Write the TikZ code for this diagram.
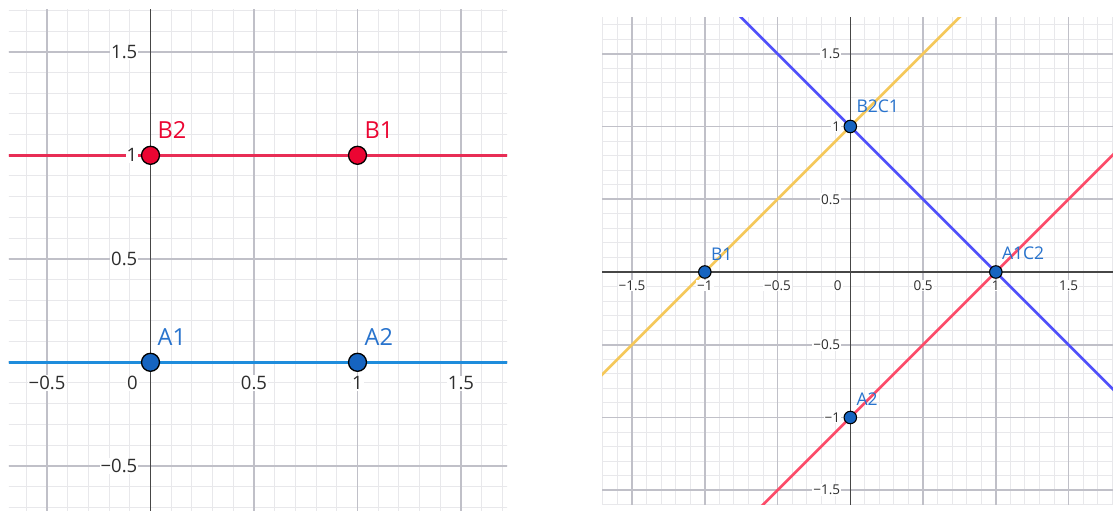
\documentclass[tikz,border=0pt]{standalone}
\usepackage{fontspec}
\setmainfont{Open Sans}
\usetikzlibrary{calc}
\definecolor{minorc}{RGB}{232,232,235}
\definecolor{majorc}{RGB}{192,192,200}
\definecolor{axisc}{RGB}{70,70,70}
\definecolor{tickc}{RGB}{45,45,45}
\definecolor{lred}{RGB}{232,45,85}
\definecolor{lredpt}{RGB}{235,5,50}
\definecolor{lblue}{RGB}{30,140,220}
\definecolor{bluept}{RGB}{22,100,192}
\definecolor{bluetxt}{RGB}{40,115,205}
\definecolor{rblue}{RGB}{80,80,250}
\definecolor{ryellow}{RGB}{245,200,90}
\definecolor{rred}{RGB}{252,75,105}
\tikzset{
  minorgrid/.style={draw=minorc, line width=1pt},
  majorgrid/.style={draw=majorc, line width=1.6pt},
  axisline/.style={draw=axisc, line width=1.6pt},
  tickL/.style={font=\fontsize{18.5}{19}\selectfont, text=tickc, fill=white, inner sep=1pt},
  tickR/.style={font=\fontsize{13.5}{14}\selectfont, text=tickc, fill=white, inner sep=1pt},
  ptbig/.style={circle, draw=black, line width=1.3pt, minimum size=18pt, inner sep=0pt},
  ptsmall/.style={circle, draw=black, line width=1.1pt, minimum size=12.5pt, inner sep=0pt},
  lblL/.style={font=\fontsize{23.5}{24}\selectfont, inner sep=0pt, anchor=base west},
  lblR/.style={font=\fontsize{17.5}{18}\selectfont, inner sep=0pt, anchor=base west, text=bluetxt},
}
\begin{document}
\begin{tikzpicture}
\useasboundingbox (0,0) rectangle (1113pt,511pt);
\fill[white] (0,0) rectangle (1113pt,511pt);

% ---------------- left panel ----------------
\begin{scope}[shift={(150.5pt,148.7pt)}, x=207pt, y=207pt]
  \begin{scope}
    \clip (-0.6836,-0.7184) rectangle (1.7222,1.7019);
    \foreach \i in {-7,...,18} \draw[minorgrid] (\i/10,-0.8) -- (\i/10,1.8);
    \foreach \j in {-8,...,18} \draw[minorgrid] (-0.8,\j/10) -- (1.8,\j/10);
    \foreach \v in {-0.5,0.5,1,1.5} {
      \draw[majorgrid] (\v,-0.8) -- (\v,1.8);
      \draw[majorgrid] (-0.8,\v) -- (1.8,\v);
    }
    \draw[axisline] (-0.8,0) -- (1.8,0);
    \draw[axisline] (0,-0.8) -- (0,1.8);
    \coordinate (cA1) at (0,0);
    \coordinate (cA2) at (1,0);
    \coordinate (cB2) at (0,1);
    \coordinate (cB1) at (1,1);
    \draw[lblue, line width=3.5pt] ($(cA1)!-3!(cA2)$) -- ($(cA2)!-3!(cA1)$);
    \draw[lred, line width=3.5pt] ($(cB2)!-3!(cB1)$) -- ($(cB1)!-3!(cB2)$);
  \end{scope}
  \foreach \v/\t/\n in {-0.5/{−0.5}/a, 0.5/{0.5}/b, 1/{1}/c, 1.5/{1.5}/d}
    \node[tickL] (Lx\n) at ([yshift=-21pt]\v,0) {\t};
  \node[tickL] (Lx0) at ([xshift=-18pt,yshift=-21pt]0,0) {0};
  \foreach \v/\t/\n in {-0.5/{−0.5}/a, 0.5/{0.5}/b, 1/{1}/c, 1.5/{1.5}/d}
    \node[tickL, anchor=east] (Ly\n) at ([xshift=-12pt]0,\v) {\t};
  \node[ptbig, fill=bluept] (A1) at (cA1) {};
  \node[ptbig, fill=bluept] (A2) at (cA2) {};
  \node[ptbig, fill=lredpt] (B2) at (cB2) {};
  \node[ptbig, fill=lredpt] (B1) at (cB1) {};
  \node[lblL, text=bluetxt] (A1l) at ([xshift=7pt,yshift=16.5pt]cA1) {A1};
  \node[lblL, text=bluetxt] (A2l) at ([xshift=7pt,yshift=16.5pt]cA2) {A2};
  \node[lblL, text=lredpt] (B2l) at ([xshift=7pt,yshift=17pt]cB2) {B2};
  \node[lblL, text=lredpt] (B1l) at ([xshift=7pt,yshift=17pt]cB1) {B1};
\end{scope}

% ---------------- right panel ----------------
\begin{scope}[shift={(850.3pt,239pt)}, x=145.5pt, y=145.5pt]
  \begin{scope}
    \clip (-1.7065,-1.601) rectangle (1.8055,1.7457);
    \foreach \i in {-18,...,19} \draw[minorgrid] (\i/10,-1.7) -- (\i/10,1.8);
    \foreach \j in {-17,...,18} \draw[minorgrid] (-1.8,\j/10) -- (1.9,\j/10);
    \foreach \v in {-1.5,-1,-0.5,0.5,1,1.5} {
      \draw[majorgrid] (\v,-1.7) -- (\v,1.8);
      \draw[majorgrid] (-1.8,\v) -- (1.9,\v);
    }
    \draw[axisline] (-1.8,0) -- (1.9,0);
    \draw[axisline] (0,-1.7) -- (0,1.8);
    \coordinate (cB2C1) at (0,1);
    \coordinate (cA1C2) at (1,0);
    \coordinate (cRB1) at (-1,0);
    \coordinate (cRA2) at (0,-1);
    \draw[ryellow, line width=2.6pt] ($(cRB1)!-3!(cB2C1)$) -- ($(cB2C1)!-3!(cRB1)$);
    \draw[rred, line width=2.6pt] ($(cRA2)!-3!(cA1C2)$) -- ($(cA1C2)!-3!(cRA2)$);
    \draw[rblue, line width=2.6pt] ($(cB2C1)!-3!(cA1C2)$) -- ($(cA1C2)!-3!(cB2C1)$);
  \end{scope}
  \foreach \v/\t/\n in {-1.5/{−1.5}/a, -1/{−1}/b, -0.5/{−0.5}/c, 0.5/{0.5}/d, 1/{1}/e, 1.5/{1.5}/f}
    \node[tickR] (Rx\n) at ([yshift=-13.5pt]\v,0) {\t};
  \node[tickR] (Rx0) at ([xshift=-12.5pt,yshift=-13.5pt]0,0) {0};
  \foreach \v/\t/\n in {-1.5/{−1.5}/a, -1/{−1}/b, -0.5/{−0.5}/c, 0.5/{0.5}/d, 1/{1}/e, 1.5/{1.5}/f}
    \node[tickR, anchor=east] (Ry\n) at ([xshift=-9pt]0,\v) {\t};
  \node[ptsmall, fill=bluept] (B2C1) at (cB2C1) {};
  \node[ptsmall, fill=bluept] (A1C2) at (cA1C2) {};
  \node[ptsmall, fill=bluept] (RB1) at (cRB1) {};
  \node[ptsmall, fill=bluept] (RA2) at (cRA2) {};
  \node[lblR] (B2C1l) at ([xshift=6pt,yshift=13.5pt]cB2C1) {B2C1};
  \node[lblR] (A1C2l) at ([xshift=6pt,yshift=12.5pt]cA1C2) {A1C2};
  \node[lblR] (RB1l) at ([xshift=6pt,yshift=11.5pt]cRB1) {B1};
  \node[lblR] (RA2l) at ([xshift=6pt,yshift=11.5pt]cRA2) {A2};
\end{scope}
\end{tikzpicture}
\end{document}
